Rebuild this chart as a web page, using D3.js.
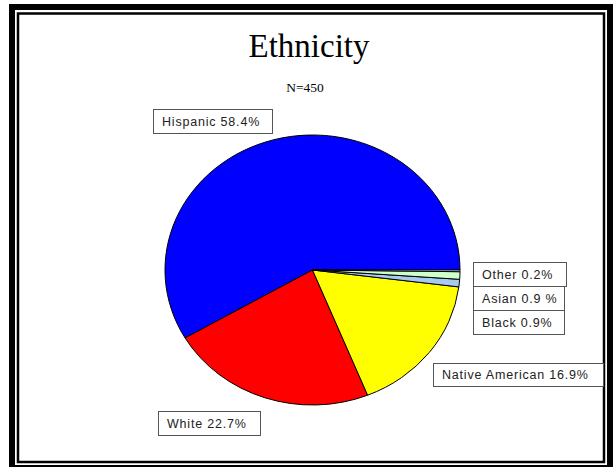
<!DOCTYPE html>
<html>
<head>
<meta charset="utf-8">
<script src="https://cdn.jsdelivr.net/npm/d3@7"></script>
<style>
  html, body { margin: 0; padding: 0; background: #fff; }
  svg { display: block; }
</style>
</head>
<body>
<svg id="chart" width="613" height="467"></svg>
<script>
const categories = ["Hispanic", "White", "Native American", "Black", "Asian", "Other"];
const values = [58.4, 22.7, 16.9, 0.9, 0.9, 0.2];
const colors = ["#0000FF", "#FF0000", "#FFFF00", "#A6CAF0", "#CCFFCC", "#CCFFFF"];
const labelTexts = ["Hispanic 58.4%", "White 22.7%", "Native American 16.9%", "Black 0.9%", "Asian 0.9 %", "Other 0.2%"];
// label box positions (x, y, w, h)
const labelBoxes = [
  [153, 109, 119, 24],
  [158, 411, 102, 24],
  [433, 363, 170, 23],
  [473, 310, 91, 24],
  [473, 286, 91, 24],
  [473, 262, 93, 24]
];
const title = "Ethnicity";
const subtitle = "N=450";

const svg = d3.select("#chart");
const W = 613, H = 467;

svg.append("rect").attr("x", 0).attr("y", 0).attr("width", W).attr("height", H).attr("fill", "#fff");

// frame
svg.append("rect").attr("x", 12).attr("y", 7).attr("width", 598).attr("height", 461)
  .attr("fill", "none").attr("stroke", "#000").attr("stroke-width", 6);
svg.append("rect").attr("x", 18).attr("y", 13.5).attr("width", 586).attr("height", 448.5)
  .attr("fill", "none").attr("stroke", "#000").attr("stroke-width", 2.5);

// titles
svg.append("text").attr("x", 309).attr("y", 57).attr("text-anchor", "middle")
  .style("font-family", "'Liberation Serif', 'Times New Roman', serif")
  .style("font-size", "33px").attr("fill", "#000").text(title);
svg.append("text").attr("x", 305).attr("y", 92).attr("text-anchor", "middle")
  .style("font-family", "'Liberation Serif', 'Times New Roman', serif")
  .style("font-size", "13.5px").attr("fill", "#000").text(subtitle);

// pie
const cx = 312.5, cy = 270, rx = 147.5, ry = 135;
const pie = d3.pie().sort(null).value(d => d)
  .startAngle(Math.PI / 2).endAngle(Math.PI / 2 - 2 * Math.PI);
const arcs = pie(values);
const arc = d3.arc().innerRadius(0).outerRadius(rx);
const g = svg.append("g").attr("transform", `translate(${cx},${cy}) scale(1,${ry / rx})`);
g.selectAll("path").data(arcs).join("path")
  .attr("d", arc)
  .attr("fill", (d, i) => colors[i])
  .attr("stroke", "#000")
  .attr("stroke-width", 1)
  .attr("vector-effect", "non-scaling-stroke");

// labels
const lg = svg.append("g");
categories.forEach((c, i) => {
  const [x, y, w, h] = labelBoxes[i];
  lg.append("rect").attr("x", x + 0.5).attr("y", y + 0.5).attr("width", w).attr("height", h)
    .attr("fill", "#fff").attr("stroke", "#555").attr("stroke-width", 1);
  lg.append("text").attr("x", x + 9).attr("y", y + h / 2 + 4.5)
    .style("font-family", "'Liberation Sans', Arial, sans-serif")
    .style("font-size", "12.5px")
    .style("letter-spacing", "0.8px")
    .attr("fill", "#222").text(labelTexts[i]);
});
</script>
</body>
</html>
